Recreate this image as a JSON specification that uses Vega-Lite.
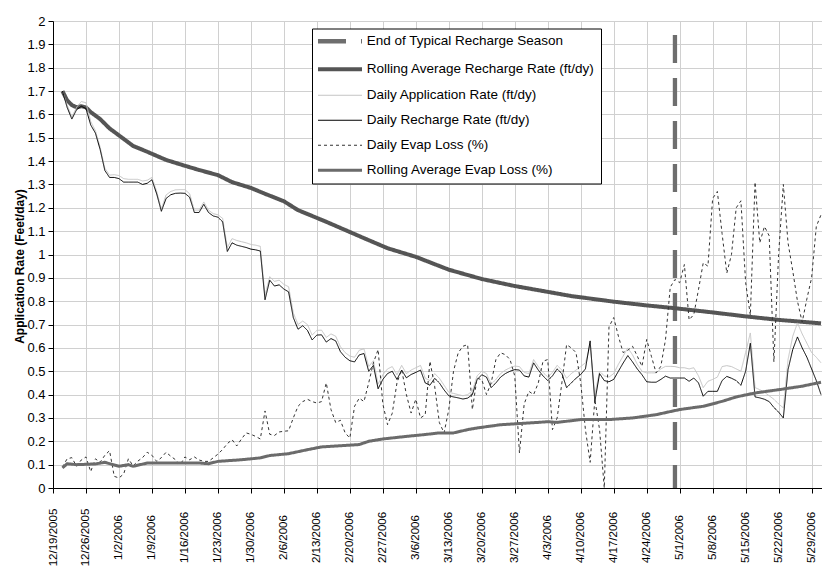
{
  "$schema": "https://vega.github.io/schema/vega-lite/v6.json",
  "autosize": {"type": "none"},
  "width": 769,
  "height": 467,
  "padding": {"left": 53, "top": 21, "right": 0, "bottom": 81},
  "background": "#ffffff",
  "config": {
    "view": {"stroke": null},
    "font": "Liberation Sans",
    "axis": {"labelFont": "Liberation Sans", "labelColor": "#000000", "domainColor": "#000000", "tickColor": "#000000", "gridColor": "#d0d0d0", "gridWidth": 1, "titleFont": "Liberation Sans", "titleColor": "#000000", "labelOverlap": false, "labelSeparation": 0}
  },
  "datasets": {
    "endline": [{"d": "2006-04-30", "v": 1.94}],
    "daily": [
      {"d":"2005-12-21","R":1.70,"A":1.70,"E":0.09},
      {"d":"2005-12-22","R":1.63,"A":1.64,"E":0.125},
      {"d":"2005-12-23","R":1.58,"A":1.59,"E":0.13},
      {"d":"2005-12-24","R":1.62,"A":1.63,"E":0.093},
      {"d":"2005-12-25","R":1.635,"A":1.655,"E":0.12},
      {"d":"2005-12-26","R":1.625,"A":1.65,"E":0.133},
      {"d":"2005-12-27","R":1.555,"A":1.57,"E":0.07},
      {"d":"2005-12-28","R":1.52,"A":1.53,"E":0.125},
      {"d":"2005-12-29","R":1.45,"A":1.46,"E":0.11},
      {"d":"2005-12-30","R":1.36,"A":1.37,"E":0.14},
      {"d":"2005-12-31","R":1.33,"A":1.34,"E":0.16},
      {"d":"2006-01-01","R":1.33,"A":1.342,"E":0.05},
      {"d":"2006-01-02","R":1.325,"A":1.338,"E":0.043},
      {"d":"2006-01-03","R":1.31,"A":1.325,"E":0.06},
      {"d":"2006-01-04","R":1.31,"A":1.322,"E":0.125},
      {"d":"2006-01-05","R":1.31,"A":1.322,"E":0.095},
      {"d":"2006-01-06","R":1.31,"A":1.322,"E":0.115},
      {"d":"2006-01-07","R":1.30,"A":1.315,"E":0.13},
      {"d":"2006-01-08","R":1.305,"A":1.318,"E":0.153},
      {"d":"2006-01-09","R":1.32,"A":1.33,"E":0.14},
      {"d":"2006-01-10","R":1.26,"A":1.27,"E":0.114},
      {"d":"2006-01-11","R":1.185,"A":1.195,"E":0.13},
      {"d":"2006-01-12","R":1.24,"A":1.255,"E":0.153},
      {"d":"2006-01-13","R":1.256,"A":1.27,"E":0.136},
      {"d":"2006-01-14","R":1.262,"A":1.277,"E":0.121},
      {"d":"2006-01-15","R":1.263,"A":1.278,"E":0.10},
      {"d":"2006-01-16","R":1.262,"A":1.278,"E":0.133},
      {"d":"2006-01-17","R":1.245,"A":1.26,"E":0.121},
      {"d":"2006-01-18","R":1.18,"A":1.19,"E":0.133},
      {"d":"2006-01-19","R":1.18,"A":1.19,"E":0.12},
      {"d":"2006-01-20","R":1.215,"A":1.225,"E":0.114},
      {"d":"2006-01-21","R":1.18,"A":1.19,"E":0.114},
      {"d":"2006-01-22","R":1.165,"A":1.175,"E":0.129},
      {"d":"2006-01-23","R":1.16,"A":1.17,"E":0.145},
      {"d":"2006-01-24","R":1.14,"A":1.155,"E":0.165},
      {"d":"2006-01-25","R":1.013,"A":1.03,"E":0.19},
      {"d":"2006-01-26","R":1.05,"A":1.068,"E":0.207},
      {"d":"2006-01-27","R":1.04,"A":1.06,"E":0.18},
      {"d":"2006-01-28","R":1.035,"A":1.055,"E":0.21},
      {"d":"2006-01-29","R":1.03,"A":1.05,"E":0.236},
      {"d":"2006-01-30","R":1.023,"A":1.043,"E":0.23},
      {"d":"2006-01-31","R":1.02,"A":1.04,"E":0.221},
      {"d":"2006-02-01","R":1.015,"A":1.035,"E":0.21},
      {"d":"2006-02-02","R":0.806,"A":0.825,"E":0.33},
      {"d":"2006-02-03","R":0.89,"A":0.905,"E":0.23},
      {"d":"2006-02-04","R":0.865,"A":0.885,"E":0.225},
      {"d":"2006-02-05","R":0.87,"A":0.89,"E":0.24},
      {"d":"2006-02-06","R":0.852,"A":0.872,"E":0.243},
      {"d":"2006-02-07","R":0.84,"A":0.862,"E":0.245},
      {"d":"2006-02-08","R":0.73,"A":0.75,"E":0.30},
      {"d":"2006-02-09","R":0.68,"A":0.70,"E":0.35},
      {"d":"2006-02-10","R":0.695,"A":0.715,"E":0.37},
      {"d":"2006-02-11","R":0.675,"A":0.70,"E":0.38},
      {"d":"2006-02-12","R":0.634,"A":0.655,"E":0.37},
      {"d":"2006-02-13","R":0.655,"A":0.675,"E":0.364},
      {"d":"2006-02-14","R":0.656,"A":0.676,"E":0.37},
      {"d":"2006-02-15","R":0.625,"A":0.645,"E":0.45},
      {"d":"2006-02-16","R":0.64,"A":0.66,"E":0.336},
      {"d":"2006-02-17","R":0.63,"A":0.65,"E":0.28},
      {"d":"2006-02-18","R":0.584,"A":0.605,"E":0.29},
      {"d":"2006-02-19","R":0.56,"A":0.58,"E":0.236},
      {"d":"2006-02-20","R":0.545,"A":0.565,"E":0.214},
      {"d":"2006-02-21","R":0.54,"A":0.56,"E":0.35},
      {"d":"2006-02-22","R":0.57,"A":0.59,"E":0.385},
      {"d":"2006-02-23","R":0.576,"A":0.596,"E":0.37},
      {"d":"2006-02-24","R":0.50,"A":0.52,"E":0.45},
      {"d":"2006-02-25","R":0.525,"A":0.545,"E":0.536},
      {"d":"2006-02-26","R":0.425,"A":0.445,"E":0.593},
      {"d":"2006-02-27","R":0.465,"A":0.485,"E":0.36},
      {"d":"2006-02-28","R":0.49,"A":0.51,"E":0.271},
      {"d":"2006-03-01","R":0.50,"A":0.52,"E":0.32},
      {"d":"2006-03-02","R":0.465,"A":0.485,"E":0.45},
      {"d":"2006-03-03","R":0.505,"A":0.525,"E":0.507},
      {"d":"2006-03-04","R":0.472,"A":0.49,"E":0.40},
      {"d":"2006-03-05","R":0.486,"A":0.505,"E":0.321},
      {"d":"2006-03-06","R":0.495,"A":0.515,"E":0.38},
      {"d":"2006-03-07","R":0.505,"A":0.525,"E":0.30},
      {"d":"2006-03-08","R":0.45,"A":0.47,"E":0.314},
      {"d":"2006-03-09","R":0.44,"A":0.46,"E":0.543},
      {"d":"2006-03-10","R":0.47,"A":0.49,"E":0.436},
      {"d":"2006-03-11","R":0.45,"A":0.47,"E":0.28},
      {"d":"2006-03-12","R":0.42,"A":0.44,"E":0.236},
      {"d":"2006-03-13","R":0.395,"A":0.41,"E":0.336},
      {"d":"2006-03-14","R":0.39,"A":0.405,"E":0.50},
      {"d":"2006-03-15","R":0.386,"A":0.40,"E":0.579},
      {"d":"2006-03-16","R":0.381,"A":0.395,"E":0.607},
      {"d":"2006-03-17","R":0.385,"A":0.40,"E":0.614},
      {"d":"2006-03-18","R":0.40,"A":0.415,"E":0.336},
      {"d":"2006-03-19","R":0.464,"A":0.48,"E":0.47},
      {"d":"2006-03-20","R":0.485,"A":0.50,"E":0.464},
      {"d":"2006-03-21","R":0.475,"A":0.49,"E":0.40},
      {"d":"2006-03-22","R":0.43,"A":0.445,"E":0.45},
      {"d":"2006-03-23","R":0.45,"A":0.465,"E":0.55},
      {"d":"2006-03-24","R":0.475,"A":0.49,"E":0.579},
      {"d":"2006-03-25","R":0.49,"A":0.505,"E":0.571},
      {"d":"2006-03-26","R":0.50,"A":0.515,"E":0.55},
      {"d":"2006-03-27","R":0.507,"A":0.522,"E":0.48},
      {"d":"2006-03-28","R":0.505,"A":0.52,"E":0.15},
      {"d":"2006-03-29","R":0.48,"A":0.495,"E":0.36},
      {"d":"2006-03-30","R":0.475,"A":0.49,"E":0.414},
      {"d":"2006-03-31","R":0.536,"A":0.55,"E":0.40},
      {"d":"2006-04-01","R":0.505,"A":0.52,"E":0.45},
      {"d":"2006-04-02","R":0.48,"A":0.495,"E":0.543},
      {"d":"2006-04-03","R":0.46,"A":0.475,"E":0.55},
      {"d":"2006-04-04","R":0.48,"A":0.495,"E":0.25},
      {"d":"2006-04-05","R":0.51,"A":0.525,"E":0.30},
      {"d":"2006-04-06","R":0.49,"A":0.505,"E":0.45},
      {"d":"2006-04-07","R":0.43,"A":0.47,"E":0.614},
      {"d":"2006-04-08","R":0.45,"A":0.49,"E":0.60},
      {"d":"2006-04-09","R":0.47,"A":0.505,"E":0.58},
      {"d":"2006-04-10","R":0.486,"A":0.52,"E":0.45},
      {"d":"2006-04-11","R":0.51,"A":0.536,"E":0.25},
      {"d":"2006-04-12","R":0.63,"A":0.61,"E":0.11},
      {"d":"2006-04-13","R":0.37,"A":0.40,"E":0.38},
      {"d":"2006-04-14","R":0.49,"A":0.50,"E":0.25},
      {"d":"2006-04-15","R":0.46,"A":0.48,"E":0.0},
      {"d":"2006-04-16","R":0.455,"A":0.475,"E":0.69},
      {"d":"2006-04-17","R":0.465,"A":0.49,"E":0.73},
      {"d":"2006-04-18","R":0.50,"A":0.53,"E":0.65},
      {"d":"2006-04-19","R":0.535,"A":0.565,"E":0.58},
      {"d":"2006-04-20","R":0.567,"A":0.60,"E":0.59},
      {"d":"2006-04-21","R":0.54,"A":0.57,"E":0.607},
      {"d":"2006-04-22","R":0.51,"A":0.53,"E":0.565},
      {"d":"2006-04-23","R":0.485,"A":0.50,"E":0.521},
      {"d":"2006-04-24","R":0.455,"A":0.493,"E":0.636},
      {"d":"2006-04-25","R":0.453,"A":0.493,"E":0.564},
      {"d":"2006-04-26","R":0.453,"A":0.493,"E":0.493},
      {"d":"2006-04-27","R":0.465,"A":0.51,"E":0.521},
      {"d":"2006-04-28","R":0.479,"A":0.521,"E":0.636},
      {"d":"2006-04-29","R":0.471,"A":0.521,"E":0.86},
      {"d":"2006-04-30","R":0.471,"A":0.52,"E":0.893},
      {"d":"2006-05-01","R":0.471,"A":0.515,"E":0.879},
      {"d":"2006-05-02","R":0.471,"A":0.515,"E":0.957},
      {"d":"2006-05-03","R":0.457,"A":0.51,"E":0.72},
      {"d":"2006-05-04","R":0.471,"A":0.515,"E":0.743},
      {"d":"2006-05-05","R":0.45,"A":0.48,"E":0.85},
      {"d":"2006-05-06","R":0.393,"A":0.43,"E":0.964},
      {"d":"2006-05-07","R":0.414,"A":0.457,"E":0.95},
      {"d":"2006-05-08","R":0.414,"A":0.465,"E":1.24},
      {"d":"2006-05-09","R":0.414,"A":0.475,"E":1.27},
      {"d":"2006-05-10","R":0.46,"A":0.52,"E":1.09},
      {"d":"2006-05-11","R":0.478,"A":0.524,"E":0.92},
      {"d":"2006-05-12","R":0.47,"A":0.52,"E":1.0},
      {"d":"2006-05-13","R":0.46,"A":0.51,"E":1.2},
      {"d":"2006-05-14","R":0.44,"A":0.50,"E":1.23},
      {"d":"2006-05-15","R":0.50,"A":0.58,"E":0.88},
      {"d":"2006-05-16","R":0.62,"A":0.664,"E":0.74},
      {"d":"2006-05-17","R":0.39,"A":0.43,"E":1.31},
      {"d":"2006-05-18","R":0.386,"A":0.421,"E":1.05},
      {"d":"2006-05-19","R":0.38,"A":0.41,"E":1.12},
      {"d":"2006-05-20","R":0.37,"A":0.395,"E":1.08},
      {"d":"2006-05-21","R":0.345,"A":0.38,"E":0.54},
      {"d":"2006-05-22","R":0.325,"A":0.36,"E":1.0},
      {"d":"2006-05-23","R":0.30,"A":0.343,"E":1.3},
      {"d":"2006-05-24","R":0.507,"A":0.55,"E":1.05},
      {"d":"2006-05-25","R":0.593,"A":0.65,"E":0.93},
      {"d":"2006-05-26","R":0.647,"A":0.707,"E":0.80},
      {"d":"2006-05-27","R":0.60,"A":0.66,"E":0.71},
      {"d":"2006-05-28","R":0.56,"A":0.62,"E":0.81},
      {"d":"2006-05-29","R":0.51,"A":0.58,"E":0.90},
      {"d":"2006-05-30","R":0.46,"A":0.56,"E":1.12},
      {"d":"2006-05-31","R":0.40,"A":0.536,"E":1.17}
    ],
    "rollR": [
      {"d":"2005-12-21","v":1.70},{"d":"2005-12-22","v":1.66},{"d":"2005-12-23","v":1.64},{"d":"2005-12-24","v":1.63},
      {"d":"2005-12-25","v":1.635},{"d":"2005-12-26","v":1.63},{"d":"2005-12-27","v":1.61},{"d":"2005-12-29","v":1.58},
      {"d":"2005-12-31","v":1.54},{"d":"2006-01-02","v":1.51},{"d":"2006-01-05","v":1.465},{"d":"2006-01-08","v":1.44},
      {"d":"2006-01-12","v":1.405},{"d":"2006-01-16","v":1.38},{"d":"2006-01-19","v":1.362},{"d":"2006-01-23","v":1.34},
      {"d":"2006-01-26","v":1.31},{"d":"2006-01-30","v":1.285},{"d":"2006-02-02","v":1.26},{"d":"2006-02-06","v":1.228},
      {"d":"2006-02-09","v":1.19},{"d":"2006-02-12","v":1.165},{"d":"2006-02-15","v":1.14},{"d":"2006-02-19","v":1.105},
      {"d":"2006-02-23","v":1.07},{"d":"2006-02-28","v":1.027},{"d":"2006-03-06","v":0.99},{"d":"2006-03-13","v":0.935},
      {"d":"2006-03-20","v":0.895},{"d":"2006-03-27","v":0.865},{"d":"2006-04-03","v":0.84},{"d":"2006-04-08","v":0.822},
      {"d":"2006-04-17","v":0.798},{"d":"2006-04-24","v":0.782},{"d":"2006-04-30","v":0.77},{"d":"2006-05-08","v":0.752},
      {"d":"2006-05-15","v":0.735},{"d":"2006-05-22","v":0.72},{"d":"2006-05-31","v":0.705}
    ],
    "rollE": [
      {"d":"2005-12-21","v":0.086},{"d":"2005-12-22","v":0.104},{"d":"2005-12-24","v":0.10},{"d":"2005-12-28","v":0.103},
      {"d":"2005-12-30","v":0.11},{"d":"2006-01-02","v":0.093},{"d":"2006-01-04","v":0.10},{"d":"2006-01-05","v":0.093},
      {"d":"2006-01-08","v":0.107},{"d":"2006-01-12","v":0.107},{"d":"2006-01-19","v":0.107},{"d":"2006-01-21","v":0.104},
      {"d":"2006-01-23","v":0.114},{"d":"2006-01-28","v":0.121},{"d":"2006-02-01","v":0.129},{"d":"2006-02-03","v":0.139},
      {"d":"2006-02-07","v":0.147},{"d":"2006-02-11","v":0.164},{"d":"2006-02-14","v":0.176},{"d":"2006-02-18","v":0.181},
      {"d":"2006-02-22","v":0.186},{"d":"2006-02-24","v":0.20},{"d":"2006-02-27","v":0.21},{"d":"2006-03-04","v":0.221},
      {"d":"2006-03-08","v":0.229},{"d":"2006-03-11","v":0.236},{"d":"2006-03-14","v":0.236},{"d":"2006-03-17","v":0.25},
      {"d":"2006-03-19","v":0.257},{"d":"2006-03-24","v":0.271},{"d":"2006-03-28","v":0.276},{"d":"2006-04-01","v":0.281},
      {"d":"2006-04-03","v":0.284},{"d":"2006-04-05","v":0.281},{"d":"2006-04-10","v":0.293},{"d":"2006-04-16","v":0.293},
      {"d":"2006-04-21","v":0.30},{"d":"2006-04-26","v":0.314},{"d":"2006-05-01","v":0.336},{"d":"2006-05-06","v":0.35},
      {"d":"2006-05-10","v":0.371},{"d":"2006-05-13","v":0.39},{"d":"2006-05-17","v":0.407},{"d":"2006-05-22","v":0.421},
      {"d":"2006-05-27","v":0.436},{"d":"2006-05-31","v":0.453}
    ]
  },
  "encoding": {
    "x": {
      "field": "d", "type": "temporal",
      "scale": {"type": "utc", "domain": [{"year": 2005, "month": 12, "date": 19, "utc": true}, {"year": 2006, "month": 5, "date": 31, "hours": 5, "utc": true}]},
      "axis": {
        "title": null, "grid": true, "tickSize": 5, "labelAngle": 270, "labelAlign": "center", "labelBaseline": "middle",
        "labelPadding": 44, "labelFontSize": 11.5, "labelOverlap": false, "labelFlush": false,
        "labelExpr": "utcFormat(datum.value, '%-m/%-d/%Y')",
        "values": [
          {"year": 2005, "month": 12, "date": 19, "utc": true}, {"year": 2005, "month": 12, "date": 26, "utc": true},
          {"year": 2006, "month": 1, "date": 2, "utc": true}, {"year": 2006, "month": 1, "date": 9, "utc": true},
          {"year": 2006, "month": 1, "date": 16, "utc": true}, {"year": 2006, "month": 1, "date": 23, "utc": true},
          {"year": 2006, "month": 1, "date": 30, "utc": true}, {"year": 2006, "month": 2, "date": 6, "utc": true},
          {"year": 2006, "month": 2, "date": 13, "utc": true}, {"year": 2006, "month": 2, "date": 20, "utc": true},
          {"year": 2006, "month": 2, "date": 27, "utc": true}, {"year": 2006, "month": 3, "date": 6, "utc": true},
          {"year": 2006, "month": 3, "date": 13, "utc": true}, {"year": 2006, "month": 3, "date": 20, "utc": true},
          {"year": 2006, "month": 3, "date": 27, "utc": true}, {"year": 2006, "month": 4, "date": 3, "utc": true},
          {"year": 2006, "month": 4, "date": 10, "utc": true}, {"year": 2006, "month": 4, "date": 17, "utc": true},
          {"year": 2006, "month": 4, "date": 24, "utc": true}, {"year": 2006, "month": 5, "date": 1, "utc": true},
          {"year": 2006, "month": 5, "date": 8, "utc": true}, {"year": 2006, "month": 5, "date": 15, "utc": true},
          {"year": 2006, "month": 5, "date": 22, "utc": true}, {"year": 2006, "month": 5, "date": 29, "utc": true}
        ]
      }
    },
    "y": {
      "field": "v", "type": "quantitative",
      "scale": {"domain": [0, 2], "nice": false, "zero": true},
      "axis": {
        "title": "Application Rate (Feet/day)", "titleFontSize": 12, "titleFontWeight": "bold",
        "titleX": -27, "titleY": 245, "titleAngle": 270, "titleAlign": "center", "titleBaseline": "bottom",
        "grid": true, "tickSize": 5, "labelPadding": 3, "labelFontSize": 13, "format": ".1~f", "labelOverlap": false,
        "values": [0, 0.1, 0.2, 0.3, 0.4, 0.5, 0.6, 0.7, 0.8, 0.9, 1, 1.1, 1.2, 1.3, 1.4, 1.5, 1.6, 1.7, 1.8, 1.9, 2]
      }
    }
  },
  "layer": [
    {
      "data": {"name": "endline"},
      "mark": {"type": "rule", "strokeWidth": 4.3},
      "encoding": {
        "y2": {"datum": 0},
        "color": {
          "datum": "End of Typical Recharge Season", "type": "nominal",
          "scale": {
            "domain": ["End of Typical Recharge Season", "Rolling Average Recharge Rate (ft/dy)", "Daily Application Rate (ft/dy)", "Daily Recharge Rate (ft/dy)", "Daily Evap Loss (%)", "Rolling Average Evap Loss (%)"],
            "range": ["#6e6e6e", "#555555", "#c4c4c4", "#000000", "#333333", "#6b6b6b"]
          },
          "legend": {
            "title": null, "orient": "none", "legendX": 259, "legendY": 7.5, "fillColor": "#ffffff", "strokeColor": "#000000",
            "padding": 6, "labelFont": "Liberation Sans", "labelFontSize": 13.5, "labelColor": "#000000",
            "symbolType": "stroke", "symbolSize": 1936, "symbolOffset": 15.25, "rowPadding": 10, "labelOffset": 20, "labelLimit": 400,
            "encode": {
              "symbols": {
                "update": {
                  "strokeWidth": {"signal": "datum.value == 'End of Typical Recharge Season' ? 4.3 : datum.value == 'Rolling Average Recharge Rate (ft/dy)' ? 4 : datum.value == 'Rolling Average Evap Loss (%)' ? 3 : 1"},
                  "strokeDash": {"signal": "datum.value == 'End of Typical Recharge Season' ? [24, 13] : datum.value == 'Daily Evap Loss (%)' ? [3, 3] : [1, 0]"}
                }
              }
            }
          }
        },
        "strokeDash": {
          "datum": "End of Typical Recharge Season", "type": "nominal",
          "scale": {
            "domain": ["End of Typical Recharge Season", "Rolling Average Recharge Rate (ft/dy)", "Daily Application Rate (ft/dy)", "Daily Recharge Rate (ft/dy)", "Daily Evap Loss (%)", "Rolling Average Evap Loss (%)"],
            "range": [[28, 15], [1, 0], [1, 0], [1, 0], [3, 3], [1, 0]]
          }
        }
      }
    },
    {
      "data": {"name": "rollR"},
      "mark": {"type": "line", "strokeWidth": 4},
      "encoding": {
        "color": {"datum": "Rolling Average Recharge Rate (ft/dy)", "type": "nominal"},
        "strokeDash": {"datum": "Rolling Average Recharge Rate (ft/dy)", "type": "nominal"}
      }
    },
    {
      "data": {"name": "daily"},
      "transform": [{"fold": ["A"], "as": ["k", "v"]}],
      "mark": {"type": "line", "strokeWidth": 1},
      "encoding": {
        "color": {"datum": "Daily Application Rate (ft/dy)", "type": "nominal"},
        "strokeDash": {"datum": "Daily Application Rate (ft/dy)", "type": "nominal"}
      }
    },
    {
      "data": {"name": "daily"},
      "transform": [{"fold": ["R"], "as": ["k", "v"]}],
      "mark": {"type": "line", "strokeWidth": 1},
      "encoding": {
        "color": {"datum": "Daily Recharge Rate (ft/dy)", "type": "nominal"},
        "strokeDash": {"datum": "Daily Recharge Rate (ft/dy)", "type": "nominal"}
      }
    },
    {
      "data": {"name": "daily"},
      "transform": [{"fold": ["E"], "as": ["k", "v"]}],
      "mark": {"type": "line", "strokeWidth": 1},
      "encoding": {
        "color": {"datum": "Daily Evap Loss (%)", "type": "nominal"},
        "strokeDash": {"datum": "Daily Evap Loss (%)", "type": "nominal"}
      }
    },
    {
      "data": {"name": "rollE"},
      "mark": {"type": "line", "strokeWidth": 3},
      "encoding": {
        "color": {"datum": "Rolling Average Evap Loss (%)", "type": "nominal"},
        "strokeDash": {"datum": "Rolling Average Evap Loss (%)", "type": "nominal"}
      }
    }
  ]
}
